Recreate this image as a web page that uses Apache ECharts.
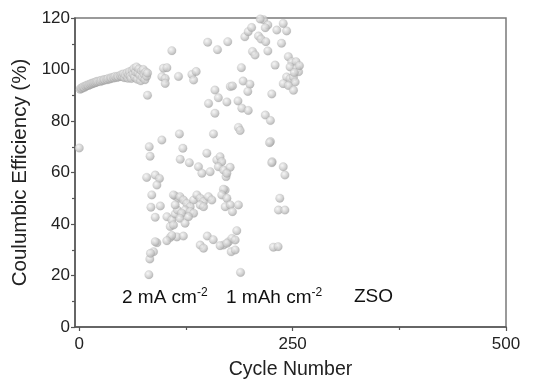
<!DOCTYPE html>
<html>
<head>
<meta charset="utf-8">
<script src="https://cdn.jsdelivr.net/npm/echarts@6/dist/echarts.min.js"></script>
<style>
html,body{margin:0;padding:0;background:#fff;}
#chart{width:534px;height:381px;}
</style>
</head>
<body>
<div id="chart"></div>
<script>
// ---- data (cycle number, coulombic efficiency %) ----
const xTickValues = [0, 250, 500];
const xMinorTickValues = [125, 375];
const xLabel = 'Cycle Number';
const yLabel = 'Coulumbic Efficiency (%)';
const annotations = ['2 mA cm', '1 mAh cm', 'ZSO'];

const initialPoints = [
  [0,69.5],[1,92.3],[2,92.8],[3,92.6],[4,93.1],[5,93.3],[6,93.0],[7,93.6],[8,93.5],[9,93.9],[10,94.0],
  [11,93.8],[12,94.3],[13,94.2],[14,94.6],[15,94.4],[16,94.8],[17,94.7],[18,95.0],[19,94.9],[20,95.3],
  [21,95.1],[22,95.4],[24,95.6],[25,95.3],[26,95.8],[28,95.7],[29,96.1],[30,95.9],[32,96.2],[33,96.0],
  [34,96.5],[36,96.3],[37,96.8],[38,96.6],[40,97.0],[41,96.7],[42,97.3],[44,96.9],[45,97.4],[46,97.1],
  [48,97.7],[49,97.3],[50,98.1],[51,97.2],[52,98.3],[53,96.8],[54,97.9],[56,98.7],[57,96.6],[58,98.0],
  [59,99.2],[60,97.4],[61,96.5],[62,99.6],[63,98.2],[64,100.4],[65,97.0],[66,99.0],[67,101.0],[68,96.2],
  [69,98.6],[70,100.2],[71,97.6],[72,95.6],[73,99.4],[74,97.0],[75,100.0],[76,98.2],[77,96.0],[78,99.0],
  [79,97.4],[80,98.6]
];

const upperPoints = [
  [80,90],[82,70],[83,66.3],
  [108.5,107.3],[98.7,100.5],[102.7,100.7],[96.8,97.2],[100.7,96.5],[100.7,94.6],[116.3,97.3],
  [132,98.1],[137,99.2],[134,95.9],[150.5,110.6],[162,107.7],[174,110.8],[159,92],[163,89],
  [151.5,86.8],[159,83],[173,87.4],[177,93.4],[179.5,93.6],[190,100.7],[192,95.5],[200,94.3],
  [197.5,91.5],[186,87.8],[190.5,85],[198,84.1],[186.5,77.5],[188.5,76.3],[218,82.3],[224,80.2],
  [224,72],[226,64.2],[229.5,101.7],[225.6,90.5],[221,107.2],[237,110.2],[243,115],[231.5,115.3],
  [239,117.9],[194,112.7],[198,114.7],[202,116.3],[210,113],[213,111.8],[218.6,110.8],[203,107],
  [206,105.6],[216,119.3],[221,117.3],[218,116.2],[212,119.6],[245,105],[249,103],[254,103],
  [247,101],[255,100.4],[257,99.1],[243,97.1],[247,96.4],[251,97.1],[253,95.1],[239,94.5],
  [245,93.8],[251,91.9],[258,101.5],[252,98.8]
];

const middlePoints = [
  [117.4,75],[157.3,75],[223,71.6],[121.4,69.4],[118.3,65.1],[129,63.8],[149.5,67.5],[161.2,64.9],
  [165,66.1],[167,64.2],[163,62.2],[169,61],[176.8,62],[172,58.4],[139.7,62.2],[143.7,59.7],
  [153.4,60.3],[225.6,63.8],[239,62.2],[241,59],[173,59.7],[171,53.2],[169,53.5],[167,51.3],
  [96.8,72.6],[79,58.1],[89,59],[94,57.7],[91,55.1]
];

const lowerPoints = [
  [112.4,50.9],[116.3,50],[84,46.5],[95,47],[89,42.6],[102.7,42.8],[108.5,41.6],[106.6,39],
  [112.4,43.9],[115,45.4],[91,32.7],[106.6,34.8],[114.4,35],[85,51.3],[110.4,51.3],[118,50.6],
  [112.4,47.4],[122,49.3],[126,48],[134,49.3],[137.8,51.3],[141.7,50],[145.6,48.7],[151.4,50.6],
  [130,46.7],[124,45.4],[120,44.2],[130,44.8],[134,44.2],[110.4,39.6],[118,42.2],[124,40.3],
  [128,42.8],[141.7,47.4],[145.6,46.7],[155.4,49.3],[173,50],[171,46.7],[108.5,35.5],[122,35.3],
  [89,33.1],[87,29.2],[141.7,31.8],[145.6,30.6],[150,35.3],[157,33.9],[169,31.8],[175,33.1],
  [81.6,20.3],[82.7,26.4],[83.5,28.6],[102.6,33.5],[165,31.6],[178,29.2],[189,21.2],[227.5,31],
  [177,47.4],[186.5,47.4],[179.5,44.8],[235,50],[233.4,45.4],[241,45.4],[184.6,37.4],[178.8,34.4],
  [182.7,33.8],[173,32.5],[182.7,29.9],[233,31.2]
];

const allPoints = initialPoints.concat(upperPoints, middlePoints, lowerPoints);

const chart = echarts.init(document.getElementById('chart'), null, {renderer: 'canvas'});
const FONT = 'Liberation Sans, Arial, Helvetica, sans-serif';
const axisColor = '#555';
const ballColor = {
  type: 'radial', x: 0.38, y: 0.35, r: 0.68,
  colorStops: [
    {offset: 0, color: '#f4f4f4'},
    {offset: 0.55, color: '#cdcdcd'},
    {offset: 1, color: '#a2a2a2'}
  ]
};
const supRich = {
  a: {fontFamily: FONT, fontSize: 19, fill: '#111'},
  s: {fontFamily: FONT, fontSize: 12, fill: '#111', padding: [0,0,10,0]}
};

chart.setOption({
  backgroundColor: '#fff',
  animation: false,
  grid: {left: 75, right: 28, top: 18, bottom: 54, show: true, borderColor: '#7a7a7a', borderWidth: 1.5,
         containLabel: false, outerBoundsMode: 'none'},
  xAxis: [{
    type: 'value', min: -5, max: 500, position: 'bottom',
    name: xLabel, nameLocation: 'middle', nameGap: 33,
    nameTextStyle: {fontFamily: FONT, fontSize: 19.5, color: '#222'},
    axisLine: {show: true, onZero: false, lineStyle: {color: axisColor, width: 1.5}},
    axisTick: {show: true, inside: false, length: 4, customValues: xTickValues, lineStyle: {color: axisColor, width: 1.2}},
    axisLabel: {customValues: xTickValues, fontFamily: FONT, fontSize: 17, color: '#222', margin: 9},
    splitLine: {show: false}
  }, {
    type: 'value', min: -5, max: 500, position: 'bottom',
    axisLine: {show: false},
    axisTick: {show: true, inside: false, length: 3, customValues: xMinorTickValues, lineStyle: {color: axisColor, width: 1.2}},
    axisLabel: {show: false},
    splitLine: {show: false}
  }],
  yAxis: {
    type: 'value', min: 0, max: 120, interval: 20,
    name: yLabel, nameLocation: 'middle', nameGap: 44, nameRotate: 90,
    nameTextStyle: {fontFamily: FONT, fontSize: 20.5, color: '#222'},
    axisLine: {show: true, onZero: false, lineStyle: {color: axisColor, width: 1.5}},
    axisTick: {show: true, inside: false, length: 4, lineStyle: {color: axisColor, width: 1.2}},
    minorTick: {show: true, splitNumber: 2, length: 3, lineStyle: {color: axisColor, width: 1.2}},
    axisLabel: {fontFamily: FONT, fontSize: 17, color: '#222', margin: 5},
    splitLine: {show: false}
  },
  series: [{
    type: 'scatter',
    data: allPoints,
    symbol: 'circle',
    symbolSize: 8.5,
    itemStyle: {color: ballColor, borderColor: 'rgba(150,150,150,0.5)', borderWidth: 0.4},
    clip: true
  }],
  graphic: [
    {type: 'text', left: 122, top: 287, style: {text: '{a|' + annotations[0] + '}{s|-2}', rich: supRich}},
    {type: 'text', left: 226, top: 287, style: {text: '{a|' + annotations[1] + '}{s|-2}', rich: supRich}},
    {type: 'text', left: 354, top: 287, style: {text: annotations[2], font: '19px ' + FONT, fill: '#111'}}
  ]
});
</script>
</body>
</html>
